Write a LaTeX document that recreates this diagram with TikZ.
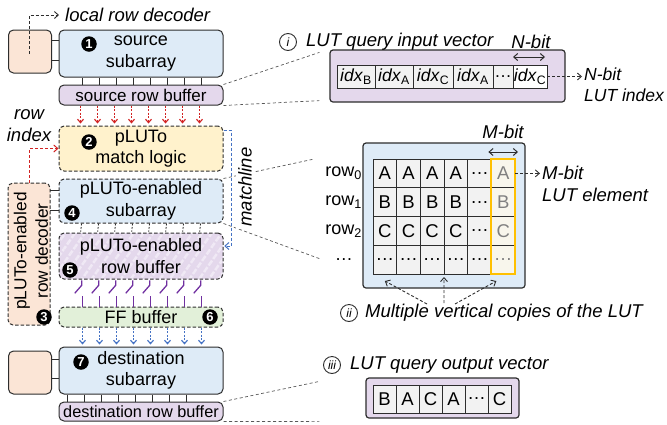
\documentclass[tikz,border=0pt]{standalone}
\usepackage{fontspec}
\setmainfont{Liberation Sans}
\usetikzlibrary{shapes.geometric, arrows.meta, positioning, fit, patterns.meta}
\definecolor{subblue}{RGB}{222,235,247}
\definecolor{decorange}{RGB}{251,229,214}
\definecolor{bufpurple}{RGB}{228,216,236}
\definecolor{stripepurple}{RGB}{240,233,245}
\definecolor{matchyellow}{RGB}{255,242,204}
\definecolor{ffgreen}{RGB}{226,240,217}
\definecolor{idxred}{RGB}{210,35,35}
\definecolor{lineblue}{RGB}{68,114,196}
\definecolor{switchpurple}{RGB}{112,48,160}
\definecolor{highorange}{RGB}{255,192,0}
\definecolor{cellgray}{RGB}{242,242,242}
\definecolor{copyfill}{RGB}{248,246,236}
\definecolor{edgegray}{RGB}{45,45,45}
\newcommand{\bxfont}{\fontsize{18}{21.5}\selectfont}
\newcommand{\ntfont}{\fontsize{18.5}{22}\selectfont\itshape}
\tikzstyle{block} = [rectangle, rounded corners=5pt, minimum width=164pt, draw=edgegray, line width=1pt, align=center, font=\bxfont, inner sep=1pt]
\tikzstyle{subarray} = [block, fill=subblue]
\tikzstyle{rowbuf} = [block, fill=bufpurple]
\tikzstyle{decoder} = [rectangle, rounded corners=5pt, draw=edgegray, line width=1pt, fill=decorange]
\tikzstyle{plutobox} = [dash pattern=on 3.5pt off 2pt]
\tikzstyle{numdot} = [circle, fill=black, text=white, inner sep=0pt, minimum size=15.5pt, font=\bfseries\fontsize{13}{13}\selectfont]
\tikzstyle{note} = [font=\ntfont, inner sep=1pt]
\tikzstyle{romcirc} = [circle, draw=edgegray, line width=0.9pt, inner sep=0.5pt, minimum size=17pt, font=\itshape\fontsize{12}{12}\selectfont]
\tikzstyle{lutcell} = [rectangle, draw=edgegray, line width=0.6pt, fill=cellgray, minimum width=23.67pt, minimum height=28.75pt, inner sep=0pt, outer sep=0pt, font=\fontsize{18.5}{20}\selectfont]
\tikzstyle{idxcell} = [lutcell, minimum height=23pt, font=\fontsize{17.5}{20}\selectfont]
\tikzstyle{vecbox} = [rectangle, rounded corners=3pt, draw=edgegray, line width=1.2pt]
\tikzstyle{callout} = [edgegray!80, line width=0.7pt, dash pattern=on 3pt off 2.5pt]
\tikzstyle{arrow} = [-{Straight Barb[length=4pt,width=7pt]}]
\tikzstyle{smallarrow} = [-{Straight Barb[length=3.5pt,width=6pt]}, line width=1.1pt, dash pattern=on 2pt off 1.5pt, shorten >=2pt]
\tikzstyle{dasharrow} = [arrow, edgegray, line width=0.9pt, dash pattern=on 3pt off 2pt]
\tikzstyle{dblarrow} = [{Straight Barb[length=4pt,width=7pt]}-{Straight Barb[length=4pt,width=7pt]}, line width=1pt, edgegray]
\tikzstyle{wire} = [edgegray, line width=0.8pt]

\begin{document}
\begin{tikzpicture}[x=1pt, y=-1pt]
\useasboundingbox (0,0) rectangle (667,424);

% Left column: subarrays and buffers
\node (src) [subarray, minimum height=47pt] at (141,53.5) {source\\subarray};
\node (srcbuf) [rowbuf, minimum height=20pt, font=\fontsize{17}{20}\selectfont] at (141,95) {source row buffer};
\node (match) [block, plutobox, fill=matchyellow, minimum height=45pt] at (141,148.5) {pLUTo\\match logic};
\node (psub) [subarray, plutobox, minimum height=44pt] at (141,201) {pLUTo-enabled\\subarray};
\node (pbuf) [block, plutobox, minimum height=46pt, preaction={fill=bufpurple}, pattern={Lines[angle=55,distance=8pt,line width=2.5pt]}, pattern color=stripepurple] at (141,256) {pLUTo-enabled\\row buffer};
\node (ff) [block, plutobox, fill=ffgreen, minimum height=20pt] at (141,317) {FF buffer};
\node (dst) [subarray, minimum height=47pt] at (141,370.5) {destination\\subarray};
\node (dstbuf) [rowbuf, minimum height=19pt, font=\fontsize{16.3}{19}\selectfont] at (141,411.5) {destination row buffer};

% Row decoders
\node (srcdec) [decoder, minimum width=43pt, minimum height=43pt] at (30,51.5) {};
\node (dstdec) [decoder, minimum width=43pt, minimum height=43pt] at (30,372.5) {};
\node (pdec) [decoder, plutobox, minimum width=42pt, minimum height=142pt] at (29,254) {};
\node (pdectext) [rotate=90, align=center, font=\fontsize{17.3}{21.5}\selectfont, inner sep=0pt] at ([xshift=2pt,yshift=3pt]pdec.center) {pLUTo-enabled\\row decoder};

% Step numbers
\node (n1) [numdot] at (89,44) {1};
\node (n2) [numdot] at (89,142) {2};
\node (n3) [numdot] at (44,317) {3};
\node (n4) [numdot] at (72,213) {4};
\node (n5) [numdot] at (70,270) {5};
\node (n6) [numdot] at (210,317) {6};
\node (n7) [numdot] at (81,362) {7};

% Bitlines and data movement
\foreach \d in {24,41,...,143}
  \draw[wire] ([xshift=\d pt]src.south west) -- ([xshift=\d pt]srcbuf.north west);
\foreach \d in {22,39,...,141}
  \draw[smallarrow, idxred] ([xshift=\d pt]srcbuf.south west) -- ([xshift=\d pt]match.north west);
\foreach \d in {23,40,...,142}
  \draw[wire, dash pattern=on 2pt off 1.5pt] ([xshift=\d pt]psub.south west) -- ([xshift=\d pt]pbuf.north west);
\foreach \d in {24,41,...,143} {
  \draw[switchpurple, line width=1.3pt] ([xshift=\d pt]pbuf.south west) -- ++(0,5) -- ++(-7,8);
  \draw[switchpurple, line width=1.3pt] ([xshift=\d pt]ff.north west) -- ++(0,-11);
}
\foreach \d in {24,41,...,143}
  \draw[smallarrow, lineblue] ([xshift=\d pt]ff.south west) -- ([xshift=\d pt]dst.north west);
\foreach \d in {9,26,...,128}
  \draw[wire] ([xshift=\d pt]dst.south west) -- ([xshift=\d pt]dstbuf.north west);

% Decoder wires
\foreach \dy in {13.5,-6.5}
  \draw[wire] ([yshift=\dy pt]src.west) -- ++(-7,0);
\foreach \dy in {11,-9}
  \draw[wire] ([yshift=\dy pt]psub.west) -- ++(-9,0);
\foreach \dy in {11.5,-7.5}
  \draw[wire] ([yshift=\dy pt]dst.west) -- ++(-7,0);

% Row index and local decoder
\node (rowidx) [note, align=center] at (29,126) {row\\index};
\draw[arrow, idxred, line width=1pt, dash pattern=on 3pt off 2pt] (pdec.north) |- (match.west);
\node (loclbl) [note, anchor=west] at (64,15) {local row decoder};
\draw[dasharrow, shorten >=5pt] ([xshift=-1pt,yshift=-2pt]srcdec.center) |- (loclbl.west);

% (i) LUT query input vector
\node (inbox) [vecbox, fill=bufpurple, minimum width=235pt, minimum height=52pt] at (447.5,76) {};
\node (q1) [idxcell, minimum width=38pt, anchor=west] at (337,76.5) {\textit{idx}\textsubscript{B}};
\node (q2) [idxcell, minimum width=38pt, right=0pt of q1] {\textit{idx}\textsubscript{A}};
\node (q3) [idxcell, minimum width=40pt, right=0pt of q2] {\textit{idx}\textsubscript{C}};
\node (q4) [idxcell, minimum width=40pt, right=0pt of q3] {\textit{idx}\textsubscript{A}};
\node (q5) [idxcell, minimum width=20pt, right=0pt of q4] {\dots};
\node (q6) [idxcell, minimum width=34pt, fill=white, right=0pt of q5] {\textit{idx}\textsubscript{C}};
\node (ci) [romcirc] at (288,42) {i};
\node (intitle) [note, right=8pt of ci] {LUT query input vector};
\node (nbit) [note] at (531,42) {N-bit};
\draw[dblarrow] ([yshift=8pt]q6.north west) -- ([xshift=-2pt,yshift=8pt]q6.north east);
\node (nlbl) [note, font=\fontsize{17.5}{21}\selectfont\itshape, align=left, anchor=west] at (583,85) {N-bit\\LUT index};
\draw[dasharrow, shorten >=1pt] (q6.east) -- (nlbl.west |- q6.east);

% (ii) vertical copies of the LUT
\node (lutbox) [vecbox, fill=subblue, minimum width=162pt, minimum height=145pt] at (444,215.5) {};
\foreach \txt [count=\r] in {A,B,C,\dots} {
  \foreach \c in {1,...,4}
    \node (l\r\c) [lutcell] at ({373+23.67*(\c-0.5)},{159+28.75*(\r-0.5)}) {\txt};
  \node (l\r5) [lutcell] at ({373+23.67*4.5},{159+28.75*(\r-0.5)}) {\dots};
  \node (l\r6) [lutcell, fill=copyfill, text=gray] at ({373+23.67*5.5},{159+28.75*(\r-0.5)}) {\txt};
}
\node (copycol) [draw=highorange, line width=2pt, fit=(l16)(l46), inner sep=0pt] {};
\foreach \k [count=\r] in {0,1,2}
  \node (rl\r) [font=\bxfont, inner sep=1pt, left=10pt of l\r1] {row\textsubscript{\k}};
\node (rl4) [font=\bxfont, inner sep=1pt, left=19pt of l41] {\dots};
\node (mbit) [note] at (503,132) {M-bit};
\draw[dblarrow] ([xshift=-3pt,yshift=7pt]l16.north west) -- ([xshift=3pt,yshift=7pt]l16.north east);
\node (mlbl) [note, align=left, anchor=west] at (541,184) {M-bit\\LUT element};
\draw[dasharrow, shorten >=1pt] (l16.east) -- (mlbl.west |- l16.east);
\node (cii) [romcirc] at (349,313) {ii};
\node (multi) [note, right=6pt of cii] {Multiple vertical copies of the LUT};
\coordinate (cp1) at (427,304);
\coordinate (cp2) at (444,303);
\coordinate (cp3) at (455,304);
\draw[dasharrow] (cp1) -- ([yshift=-7pt]l41.south);
\draw[dasharrow] (cp2) -- ([yshift=-3pt]l43.south east);
\draw[dasharrow] (cp3) -- ([xshift=5pt,yshift=-7pt]l46.south west);

% (iii) LUT query output vector
\node (outbox) [vecbox, fill=bufpurple, minimum width=153pt, minimum height=40pt] at (442.5,398) {};
\foreach \txt [count=\i] in {B,A,C,A,\dots,C}
  \node (o\i) [lutcell, minimum width=23pt, minimum height=28pt] at ({373+23*(\i-0.5)},399) {\txt};
\node (ciii) [romcirc] at (332,365) {iii};
\node (outtitle) [note, right=8pt of ciii] {LUT query output vector};

% Callout lines
\draw[callout] (srcbuf.north east) -- ([xshift=-10pt,yshift=-3pt]inbox.north west);
\draw[callout] (srcbuf.south east) -- ([xshift=-10pt,yshift=2pt]inbox.south west);
\draw[callout] (psub.north east) -- ([xshift=-50pt,yshift=-17pt]lutbox.north west);
\draw[callout] (psub.south east) -- ([xshift=-43pt,yshift=30pt]lutbox.south west);
\draw[callout] (dstbuf.north east) -- ([xshift=-46pt,yshift=-4pt]outbox.north west);
\draw[callout] (dstbuf.south east) -- ([xshift=-46pt,yshift=-3pt]outbox.south west);

% Matchline
\node (mlabel) [note, rotate=90, fill=white, inner sep=2pt] at (245,187) {matchline};
\draw[arrow, lineblue, line width=1pt, dash pattern=on 3pt off 2pt] ([yshift=-5pt]match.north east) -- ++(8,0) |- ([yshift=10pt]pbuf.east);

\end{tikzpicture}
\end{document}
